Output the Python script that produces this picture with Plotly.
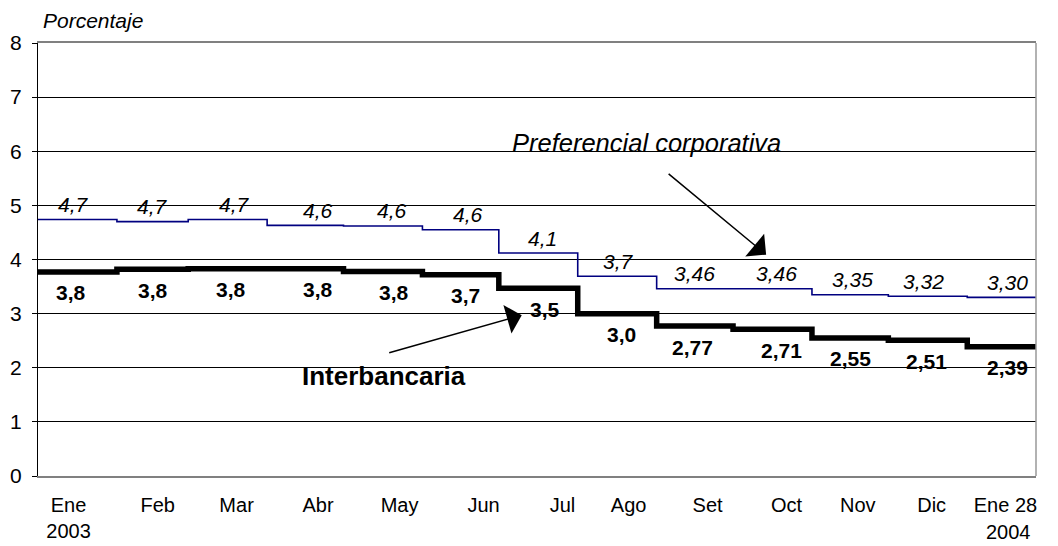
import plotly.graph_objects as go

# ---------------- data ----------------
month_starts = ["2003-01-01", "2003-02-01", "2003-03-01", "2003-04-01", "2003-05-01",
                "2003-06-01", "2003-07-01", "2003-08-01", "2003-09-01", "2003-10-01",
                "2003-11-01", "2003-12-01", "2004-01-01"]
end_date = "2004-01-28"

preferencial = [4.74, 4.70, 4.74, 4.63, 4.62, 4.55, 4.12, 3.69, 3.46, 3.46, 3.35, 3.32, 3.30]
interbancaria = [3.77, 3.82, 3.83, 3.83, 3.78, 3.72, 3.47, 3.00, 2.77, 2.71, 2.55, 2.51, 2.39]

pref_labels = ["4,7", "4,7", "4,7", "4,6", "4,6", "4,6", "4,1", "3,7", "3,46", "3,46", "3,35", "3,32", "3,30"]
pref_label_dates = ["2003-01-15", "2003-02-15", "2003-03-19", "2003-04-21", "2003-05-20",
                    "2003-06-19", "2003-07-18", "2003-08-17", "2003-09-16", "2003-10-18",
                    "2003-11-17", "2003-12-15", "2004-01-17"]
inter_labels = ["3,8", "3,8", "3,8", "3,8", "3,8", "3,7", "3,5", "3,0", "2,77", "2,71", "2,55", "2,51", "2,39"]
inter_label_dates = ["2003-01-14", "2003-02-15", "2003-03-18", "2003-04-21", "2003-05-21",
                     "2003-06-18", "2003-07-19", "2003-08-18", "2003-09-15", "2003-10-20",
                     "2003-11-16", "2003-12-16", "2004-01-17"]

tick_dates = ["2003-01-13", "2003-02-17", "2003-03-20", "2003-04-21", "2003-05-23",
              "2003-06-25", "2003-07-26", "2003-08-21", "2003-09-21", "2003-10-22",
              "2003-11-19", "2003-12-18", "2004-01-16"]
tick_text = ["Ene<br>2003", "Feb", "Mar", "Abr", "May", "Jun", "Jul", "Ago", "Set",
             "Oct", "Nov", "Dic", "Ene 28"]
y_ticks = [0, 1, 2, 3, 4, 5, 6, 7, 8]

FONT = "Liberation Sans, Arial, sans-serif"

fig = go.Figure()

fig.add_trace(go.Scatter(
    x=month_starts + [end_date], y=preferencial + [preferencial[-1]],
    mode="lines", line=dict(color="#000080", width=1.6, shape="hv"),
    showlegend=False, hoverinfo="skip"))
fig.add_trace(go.Scatter(
    x=month_starts + [end_date], y=interbancaria + [interbancaria[-1]],
    mode="lines", line=dict(color="#000000", width=5.5, shape="hv"),
    showlegend=False, hoverinfo="skip"))

annotations = []
for d, v, t in zip(pref_label_dates, preferencial, pref_labels):
    annotations.append(dict(x=d, y=v, text="<i>" + t + "</i>", showarrow=False,
                            yshift=15, font=dict(family=FONT, size=21, color="#000000")))
for d, v, t in zip(inter_label_dates, interbancaria, inter_labels):
    annotations.append(dict(x=d, y=v, text="<b>" + t + "</b>", showarrow=False,
                            yshift=-21, font=dict(family=FONT, size=21, color="#000000")))

# series name callouts with arrows
annotations += [
    dict(x="2003-05-17", y=1.84, text="<b>Interbancaria</b>", showarrow=False,
         font=dict(family=FONT, size=26, color="#000000")),
    dict(x="2003-07-10", y=2.97, text="", showarrow=True, ax=-134, ay=38,
         arrowhead=1, arrowsize=3.3, arrowwidth=1.5, arrowcolor="#000000"),
    dict(x="2003-08-28", y=6.16, text="<i>Preferencial corporativa</i>", showarrow=False,
         font=dict(family=FONT, size=25.5, color="#000000")),
    dict(x="2003-10-14", y=4.09, text="", showarrow=True, ax=-99, ay=-82,
         arrowhead=1, arrowsize=3.3, arrowwidth=1.5, arrowcolor="#000000"),
    dict(xref="paper", yref="paper", x=0.003, y=1.051, xanchor="left", yanchor="middle",
         text="<i>Porcentaje</i>", showarrow=False,
         font=dict(family=FONT, size=21, color="#000000")),
    dict(xref="paper", yref="paper", x=0.997, y=-0.129, xanchor="right", yanchor="middle",
         text="2004", showarrow=False,
         font=dict(family=FONT, size=20, color="#000000")),
]

fig.update_layout(
    width=1058, height=546,
    margin=dict(l=38, r=22, t=43, b=70, autoexpand=False),
    paper_bgcolor="white", plot_bgcolor="white",
    font=dict(family=FONT, color="#000000"),
    annotations=annotations,
    shapes=[dict(type="line", xref="paper", yref="paper", x0=1, x1=1, y0=0, y1=1,
                 line=dict(color="#999999", width=1.5))],
)
fig.update_xaxes(
    type="date", range=["2003-01-01", end_date], automargin=False,
    tickmode="array", tickvals=tick_dates, ticktext=tick_text,
    tickfont=dict(family=FONT, size=20, color="#000000"),
    showgrid=False, zeroline=False, ticks="", ticklabelstandoff=10,
    showline=True, linecolor="#808080", linewidth=1.5, mirror=True,
)
fig.update_yaxes(
    range=[0, 8], tickmode="array", tickvals=y_ticks, automargin=False,
    tickfont=dict(family=FONT, size=21, color="#000000"),
    showgrid=True, gridcolor="#000000", gridwidth=1, zeroline=False,
    ticks="outside", ticklen=5, tickcolor="#000000", ticklabelstandoff=6,
    showline=True, linecolor="#000000", linewidth=1.2,
)

fig.write_html("out.html",
               config={"displayModeBar": False},
               post_script="document.body.style.margin='0';document.body.style.padding='0';")
